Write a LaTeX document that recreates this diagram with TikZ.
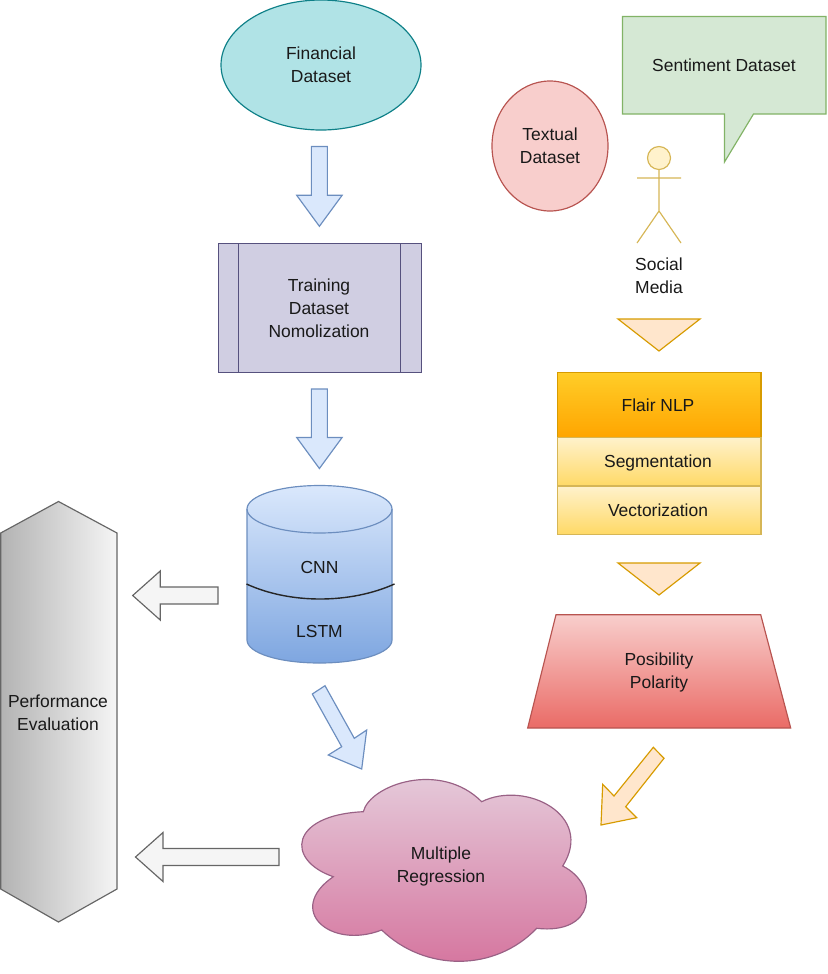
\documentclass[tikz,border=0pt]{standalone}
\usepackage{fontspec}
\setmainfont{Liberation Sans}
\usetikzlibrary{shapes.geometric}
\definecolor{finfill}{HTML}{B0E3E6}
\definecolor{findraw}{HTML}{0E8088}
\definecolor{bluefill}{HTML}{DAE8FC}
\definecolor{bluedraw}{HTML}{6C8EBF}
\definecolor{bluedeep}{HTML}{7EA6E0}
\definecolor{procfill}{HTML}{D0CEE2}
\definecolor{procdraw}{HTML}{56517E}
\definecolor{redfill}{HTML}{F8CECC}
\definecolor{reddraw}{HTML}{B85450}
\definecolor{reddeep}{HTML}{EA6B66}
\definecolor{greenfill}{HTML}{D5E8D4}
\definecolor{greendraw}{HTML}{82B366}
\definecolor{yelfill}{HTML}{FFF2CC}
\definecolor{yeldraw}{HTML}{D6B656}
\definecolor{yeldeep}{HTML}{FFD966}
\definecolor{orfill}{HTML}{FFE6CC}
\definecolor{ordraw}{HTML}{D79B00}
\definecolor{ortop}{HTML}{FFCD28}
\definecolor{ordeep}{HTML}{FFA500}
\definecolor{cloudtop}{HTML}{E6D0DE}
\definecolor{cloudlow}{HTML}{D5739D}
\definecolor{clouddraw}{HTML}{996185}
\definecolor{greydraw}{HTML}{666666}
\definecolor{greyfill}{HTML}{F5F5F5}
\definecolor{greydeep}{HTML}{B3B3B3}
\tikzset{every node/.style={font=\fontsize{14.9}{19.6}\selectfont,text=black!90,align=center,inner sep=0pt,outer sep=0pt}}
\newcommand{\downarr}[3]{%
  \draw[bluearr] ({#1-8},#2) -- ({#1+8},#2) -- ({#1+8},{#3-31}) -- ({#1+22.7},{#3-31})
    -- (#1,#3) -- ({#1-22.7},{#3-31}) -- ({#1-8},{#3-31}) -- cycle;}
\newcommand{\tridown}[2]{%
  \draw[tri] ({#1-41},#2) -- ({#1+41},#2) -- (#1,{#2+32}) -- cycle;}
\newcommand{\leftarr}[3]{%
  \draw[greyarr] (#2,{#3-8.5}) -- ({#1+27.5},{#3-8.5}) -- ({#1+27.5},{#3-24.5}) -- (#1,#3)
    -- ({#1+27.5},{#3+24.5}) -- ({#1+27.5},{#3+8.5}) -- (#2,{#3+8.5}) -- cycle;}

\begin{document}
\begin{tikzpicture}[x=0.3mm,y=-0.3mm,line width=1pt,
    bluearr/.style={draw=bluedraw,fill=bluefill},
    greyarr/.style={draw=greydraw,fill=greyfill},
    tri/.style={draw=ordraw,fill=orfill},
    dataset/.style={ellipse},
    stackpart/.style={draw=yeldraw,top color=yelfill,bottom color=yeldeep}]
  \path[use as bounding box] (0,0) rectangle (828,974);

  % Left column: financial data down to the models
  \node[dataset,draw=findraw,fill=finfill,minimum width=60mm,minimum height=39mm] (financial) at (321,65) {Financial\\Dataset};
  \downarr{319.4}{146.5}{226.3}
  \draw[draw=procdraw,fill=procfill] (218.5,243.3) rectangle (421.5,372.7);
  \draw[draw=procdraw] (238.3,243.3) -- (238.3,372.7) (400.7,243.3) -- (400.7,372.7);
  \node (training) at (319,308.5) {Training\\Dataset\\Nomolization};
  \downarr{319.4}{389}{468.5}

  % Cylinder with the two models
  \draw[draw=bluedraw,top color=bluefill,bottom color=bluedeep]
    (247,509) .. controls (247,496) and (279,485.5) .. (319.5,485.5) .. controls (360,485.5) and (392,496) .. (392,509)
    -- (392,640) .. controls (392,653) and (360,663) .. (319.5,663) .. controls (279,663) and (247,653) .. (247,640) -- cycle;
  \draw[draw=bluedraw] (247,509) .. controls (247,522) and (279,533) .. (319.5,533) .. controls (360,533) and (392,522) .. (392,509);
  \draw[black!85,line width=1.2pt] (246.5,584) .. controls (290,604) and (350,604) .. (394.5,584);
  \node (cnn) at (319.5,567) {CNN};
  \node (lstm) at (319.5,631.5) {LSTM};
  \draw[bluearr] (312.3,694) -- (325,685.7) -- (354.3,738.3) -- (366.7,730) -- (361.7,769)
    -- (328.3,755) -- (341.7,746.7) -- cycle;

  % Evaluation block and its two arrows
  \draw[draw=greydraw,left color=greydeep,right color=greyfill]
    (0.7,533) -- (58.5,501.5) -- (117,533) -- (117,889) -- (58.5,922) -- (0.7,889) -- cycle;
  \node (evaluation) at (58,712.5) {Performance\\Evaluation};
  \leftarr{132.7}{218}{595.5}
  \leftarr{135.5}{279}{857}

  % Right column: social media inputs
  \node[dataset,draw=reddraw,fill=redfill,minimum width=34.8mm,minimum height=39mm] (textual) at (550,146) {Textual\\Dataset};
  \draw[draw=greendraw,fill=greenfill] (622.5,16.5) -- (826,16.5) -- (826,114) -- (753.5,114)
    -- (724.5,162) -- (724.5,114) -- (622.5,114) -- cycle;
  \node (sentiment) at (724,65.5) {Sentiment Dataset};
  \draw[draw=yeldraw,fill=yelfill] (659,158) circle (11.5);
  \draw[draw=yeldraw] (659,169.5) -- (659,211) (637,178) -- (681,178)
    (637,243) -- (659,211) -- (681,243);
  \node (social) at (659,275.5) {Social\\Media};
  \tridown{659}{319}

  % Text processing stack
  \draw[draw=ordraw,top color=ortop,bottom color=ordeep] (557.5,372.5) rectangle (761,437.3);
  \draw[stackpart] (557.5,437.3) rectangle (761,486);
  \draw[stackpart] (557.5,486) rectangle (761,534.3);
  \node (flair) at (658,405) {Flair NLP};
  \node (segmentation) at (658,463) {Segmentation};
  \node (vectorization) at (658,510) {Vectorization};
  \tridown{659}{563}
  \draw[draw=reddraw,top color=redfill,bottom color=reddeep]
    (556,614.7) -- (760.7,614.7) -- (790.7,728) -- (527.7,728) -- cycle;
  \node (polarity) at (659,672) {Posibility\\Polarity};
  \draw[draw=ordraw,fill=orfill] (653.3,747.3) -- (664,758.3) -- (625.7,806.7) -- (636.7,817.7)
    -- (601,825) -- (602.7,784.3) -- (614,796) -- cycle;

  % Cloud at the bottom
  \draw[draw=clouddraw,top color=cloudtop,bottom color=cloudlow]
    (363.3,811.7) .. controls (370,785) and (440,760) .. (481.7,801.7)
    .. controls (525,780) and (595,815) .. (562.7,866)
    .. controls (600,885) and (595,935) .. (536.7,928.3)
    .. controls (495,972) and (425,972) .. (381.7,930)
    .. controls (330,950) and (285,910) .. (333.3,876.7)
    .. controls (285,860) and (290,815) .. (363.3,811.7) -- cycle;
  \node (regression) at (441,866) {Multiple\\Regression};
\end{tikzpicture}
\end{document}
